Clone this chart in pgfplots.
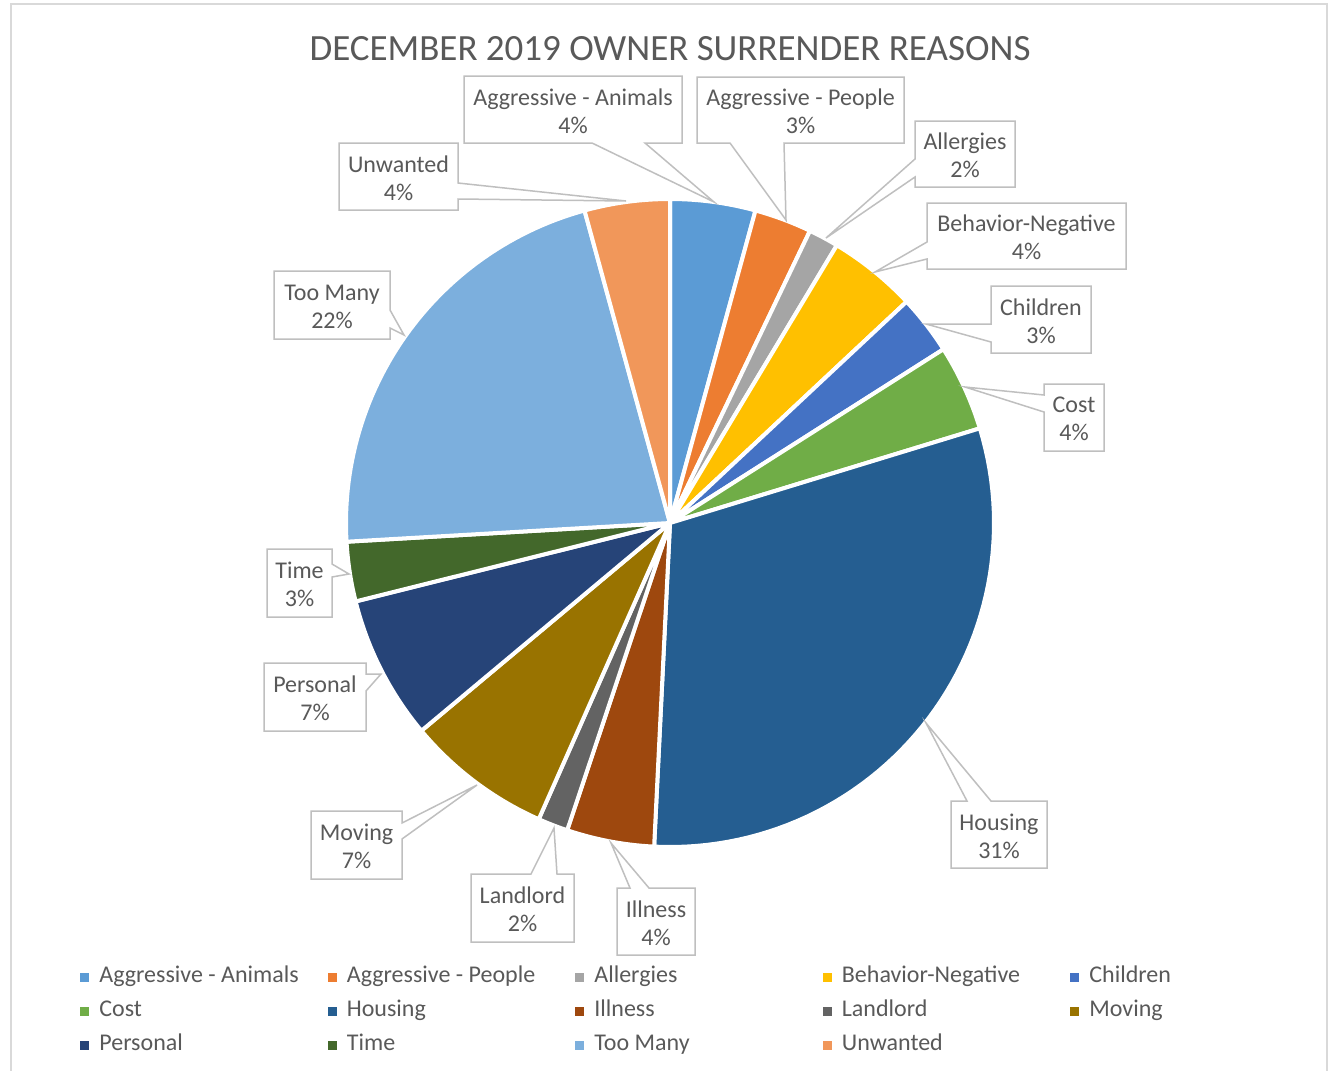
\documentclass[border=0pt]{standalone}
\usepackage{fontspec}
\setmainfont{Carlito}
\usepackage{pgfplots}
\pgfplotsset{compat=1.18}

\definecolor{txt}{HTML}{595959}
\definecolor{lbox}{HTML}{BFBFBF}
\definecolor{frm}{HTML}{D9D9D9}
\definecolor{cAA}{HTML}{5B9BD5}
\definecolor{cAP}{HTML}{ED7D31}
\definecolor{cAl}{HTML}{A5A5A5}
\definecolor{cBN}{HTML}{FFC000}
\definecolor{cCh}{HTML}{4472C4}
\definecolor{cCo}{HTML}{70AD47}
\definecolor{cHo}{HTML}{255E91}
\definecolor{cIl}{HTML}{9E480E}
\definecolor{cLa}{HTML}{636363}
\definecolor{cMo}{HTML}{997300}
\definecolor{cPe}{HTML}{264478}
\definecolor{cTi}{HTML}{43682B}
\definecolor{cTM}{HTML}{7CAFDD}
\definecolor{cUn}{HTML}{F1975A}

\tikzset{
  co/.style={draw=lbox, line width=0.75pt, fill=white, line join=miter},
  lb/.style={align=center, text=txt, font=\fontsize{12}{14}\selectfont, inner sep=0pt, yshift=-0.75pt},
}

% one pie slice: share in percent, colour, legend text
% angles run clockwise from the top, centre (670,523), radius 324 (pixel units)
\newcommand\slCum{0}
\newcommand\slice[3]{%
  \pgfmathsetmacro\slA{\slCum}%
  \pgfmathsetmacro\slB{\slCum+#1*3.6}%
  \xdef\slCum{\slB}%
  \edef\doslice{\noexpand\addplot[fill=#2, draw=white, line width=2pt, line join=round,
    domain=\slA:\slB, samples=60] ({670+324*sin(x)},{523-324*cos(x)}) -- (axis cs:670,523) -- cycle;}%
  \doslice
  \addlegendentry{\makebox[114.25pt][l]{#3}}%
}

\begin{document}
\begin{tikzpicture}
\begin{axis}[
  scale only axis, width=667pt, height=535.5pt,
  xmin=0, xmax=1334, ymin=0, ymax=1071, y dir=reverse,
  hide axis, clip=false,
  legend columns=5, legend cell align=left,
  legend image code/.code={\fill[#1, draw=none] (0pt,-2.25pt) rectangle (4.5pt,2.25pt); \path (8.5pt,0pt);},
  legend style={at={(axis cs:80,960)}, anchor=north west, draw=none, fill=none,
    inner sep=0pt, font=\fontsize{12}{14}\selectfont, text=txt,
    nodes={inner sep=0pt, text height=11pt, text depth=6pt}},
]
\slice{4.25}{cAA}{Aggressive - Animals}
\slice{2.86}{cAP}{Aggressive - People}
\slice{1.50}{cAl}{Allergies}
\slice{4.42}{cBN}{Behavior-Negative}
\slice{2.96}{cCh}{Children}
\slice{4.29}{cCo}{Cost}
\slice{30.50}{cHo}{Housing}
\slice{4.36}{cIl}{Illness}
\slice{1.50}{cLa}{Landlord}
\slice{7.28}{cMo}{Moving}
\slice{7.19}{cPe}{Personal}
\slice{2.97}{cTi}{Time}
\slice{21.67}{cTM}{Too Many}
\slice{4.25}{cUn}{Unwanted}

% chart frame and title
\draw[frm, line width=0.75pt] (axis cs:11,1071) -- (axis cs:11,4) -- (axis cs:1327,4) -- (axis cs:1327,1071);
\node[anchor=base, text=txt, font=\fontsize{18.5}{22}\selectfont, inner sep=0pt] at (axis cs:670,60) {DECEMBER 2019 OWNER SURRENDER REASONS};

% data label callouts
\draw[co] (axis cs:464,76) -- (axis cs:682,76) -- (axis cs:682,143) -- (axis cs:645,143) -- (axis cs:714,202) -- (axis cs:592,143) -- (axis cs:464,143) -- cycle;
\node[lb] at (axis cs:573,109.5) {Aggressive - Animals\\4\%};
\draw[co] (axis cs:697,77) -- (axis cs:904,77) -- (axis cs:904,143) -- (axis cs:784,143) -- (axis cs:786,220) -- (axis cs:730,143) -- (axis cs:697,143) -- cycle;
\node[lb] at (axis cs:800.5,110) {Aggressive - People\\3\%};
\draw[co] (axis cs:915,121) -- (axis cs:1015,121) -- (axis cs:1015,187) -- (axis cs:915,187) -- (axis cs:915,177) -- (axis cs:826,238) -- (axis cs:915,159) -- cycle;
\node[lb] at (axis cs:965,154) {Allergies\\2\%};
\draw[co] (axis cs:927,203) -- (axis cs:1126,203) -- (axis cs:1126,269) -- (axis cs:927,269) -- (axis cs:927,259) -- (axis cs:875,272) -- (axis cs:927,242) -- cycle;
\node[lb] at (axis cs:1026.5,236) {Behavior-Negative\\4\%};
\draw[co] (axis cs:991,286) -- (axis cs:1091,286) -- (axis cs:1091,353) -- (axis cs:991,353) -- (axis cs:991,342) -- (axis cs:926,324) -- (axis cs:991,324) -- cycle;
\node[lb] at (axis cs:1041,319.5) {Children\\3\%};
\draw[co] (axis cs:1044,384) -- (axis cs:1104,384) -- (axis cs:1104,451) -- (axis cs:1044,451) -- (axis cs:1044,412) -- (axis cs:965,387) -- (axis cs:1044,395) -- cycle;
\node[lb] at (axis cs:1074,417.5) {Cost\\4\%};
\draw[co] (axis cs:951,801) -- (axis cs:967,801) -- (axis cs:926,723) -- (axis cs:991,801) -- (axis cs:1047,801) -- (axis cs:1047,868) -- (axis cs:951,868) -- cycle;
\node[lb] at (axis cs:999,834.5) {Housing\\31\%};
\draw[co] (axis cs:617,888) -- (axis cs:630,888) -- (axis cs:611,843) -- (axis cs:649,888) -- (axis cs:695,888) -- (axis cs:695,955) -- (axis cs:617,955) -- cycle;
\node[lb] at (axis cs:656,921.5) {Illness\\4\%};
\draw[co] (axis cs:471,874) -- (axis cs:531,874) -- (axis cs:554,828) -- (axis cs:557,874) -- (axis cs:574,874) -- (axis cs:574,942) -- (axis cs:471,942) -- cycle;
\node[lb] at (axis cs:522.5,908) {Landlord\\2\%};
\draw[co] (axis cs:311,811) -- (axis cs:402,811) -- (axis cs:402,823) -- (axis cs:477,785) -- (axis cs:402,839) -- (axis cs:402,879) -- (axis cs:311,879) -- cycle;
\node[lb] at (axis cs:356.5,845) {Moving\\7\%};
\draw[co] (axis cs:264,663) -- (axis cs:366,663) -- (axis cs:366,674) -- (axis cs:381,674) -- (axis cs:366,691) -- (axis cs:366,731) -- (axis cs:264,731) -- cycle;
\node[lb] at (axis cs:315,697) {Personal\\7\%};
\draw[co] (axis cs:267,549) -- (axis cs:332,549) -- (axis cs:332,564) -- (axis cs:349,574) -- (axis cs:332,577) -- (axis cs:332,617) -- (axis cs:267,617) -- cycle;
\node[lb] at (axis cs:299.5,583) {Time\\3\%};
\draw[co] (axis cs:274,271) -- (axis cs:390,271) -- (axis cs:390,310) -- (axis cs:404,335) -- (axis cs:390,328) -- (axis cs:390,339) -- (axis cs:274,339) -- cycle;
\node[lb] at (axis cs:332,305) {Too Many\\22\%};
\draw[co] (axis cs:339,143) -- (axis cs:458,143) -- (axis cs:458,183) -- (axis cs:626,201) -- (axis cs:458,199) -- (axis cs:458,210) -- (axis cs:339,210) -- cycle;
\node[lb] at (axis cs:398.5,176.5) {Unwanted\\4\%};
\end{axis}
\pgfresetboundingbox
\path (current axis.south west) rectangle (current axis.north east);
\end{tikzpicture}
\end{document}
